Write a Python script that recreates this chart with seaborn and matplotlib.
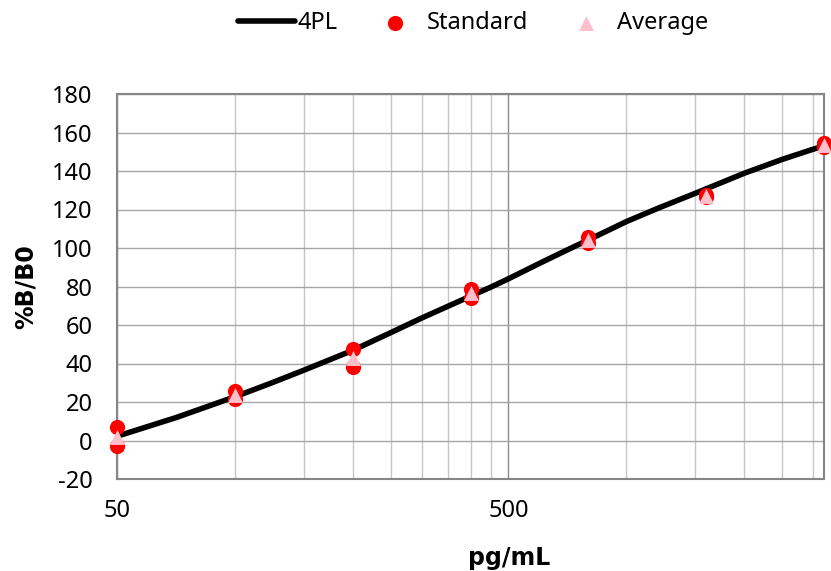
import numpy as np
import pandas as pd
import matplotlib
matplotlib.use("Agg")
import matplotlib.pyplot as plt
from matplotlib.ticker import FixedLocator, NullFormatter
import seaborn as sns

# ---- data ----
conc = [50, 100, 200, 400, 800, 1600, 3200]
standard_rep1 = [7.0, 25.5, 47.7, 78.8, 105.5, 127.5, 154.4]
standard_rep2 = [-3.0, 21.5, 38.3, 74.2, 102.5, 126.5, 152.6]
average = [2.0, 23.5, 43.0, 76.5, 104.0, 127.0, 153.5]

curve_x = [50, 71, 100, 123, 150, 200, 250, 300, 350, 400, 450, 500, 600, 700,
           800, 1000, 1200, 1500, 2000, 2500, 3000, 3200]
curve_y = [2.2, 12.0, 22.7, 29.6, 36.5, 46.8, 56.0, 63.6, 69.7, 75.0, 79.6, 84.0,
           92.0, 98.6, 104.2, 113.7, 120.5, 128.4, 138.8, 146.0, 151.3, 153.0]

y_ticks = [-20, 0, 20, 40, 60, 80, 100, 120, 140, 160, 180]
x_major = [50, 500]
x_major_labels = ["50", "500"]
x_minor = [100, 150, 200, 250, 300, 350, 400, 450,
           1000, 1500, 2000, 2500, 3000]

sns.set_style("white")
plt.rcParams["font.family"] = ["Noto Sans", "DejaVu Sans"]
plt.rcParams["axes.unicode_minus"] = False
plt.rcParams["text.color"] = "black"

fig = plt.figure(figsize=(8.31, 5.71), dpi=100)
ax = fig.add_axes([117 / 831, 1 - 479 / 571, (824 - 117) / 831, (479 - 94) / 571])

curve_df = pd.DataFrame({"x": curve_x, "y": curve_y})
std_df = pd.DataFrame({"x": conc + conc, "y": standard_rep1 + standard_rep2})
avg_df = pd.DataFrame({"x": conc, "y": average})

sns.lineplot(data=curve_df, x="x", y="y", ax=ax, color="black", linewidth=4.0,
             label="4PL", zorder=3, sort=True)
line = ax.get_lines()[0]
line.set_solid_joinstyle("round")
line.set_solid_capstyle("round")
sns.scatterplot(data=std_df, x="x", y="y", ax=ax, color="#ff0000", s=120,
                marker="o", linewidth=0, label="Standard", zorder=4, clip_on=False)
sns.scatterplot(data=avg_df, x="x", y="y", ax=ax, color="#ffc0cb", s=115,
                marker="^", linewidth=0, label="Average", zorder=5, clip_on=False)

ax.set_xscale("log")
ax.set_xlim(50, 3200)
ax.set_ylim(-20, 180)
ax.set_yticks(y_ticks)
ax.set_xticks(x_major)
ax.set_xticklabels(x_major_labels)
ax.xaxis.set_minor_locator(FixedLocator(x_minor))
ax.xaxis.set_minor_formatter(NullFormatter())

ax.grid(which="minor", axis="x", color="#c6c6c6", linewidth=1.0)
ax.grid(which="major", axis="x", color="#8c8c8c", linewidth=1.0)
ax.grid(which="major", axis="y", color="#a6a6a6", linewidth=1.0)
ax.set_axisbelow(True)

for sp in ax.spines.values():
    sp.set_visible(True)
    sp.set_color("#868686")
    sp.set_linewidth(1.5)

ax.tick_params(axis="both", which="major", direction="out", length=6.5,
               width=1.0, color="#868686", labelsize=17, labelcolor="black")
ax.tick_params(axis="y", pad=11)
ax.tick_params(axis="x", pad=8)
ax.tick_params(axis="x", which="minor", length=0)

ax.set_xlabel("")
ax.set_ylabel("")
fig.text(509 / 831, 1 - 558 / 571, "pg/mL", ha="center", va="center",
         fontsize=17, fontweight="bold", color="black", family="DejaVu Sans")
fig.text(26 / 831, 1 - 287 / 571, "%B/B0", ha="center", va="center",
         rotation=90, fontsize=17, fontweight="bold", color="black",
         family="DejaVu Sans")

handles, labels = ax.get_legend_handles_labels()
ax.get_legend().remove()
leg = fig.legend(handles, labels, loc="center", bbox_to_anchor=(473 / 831, 1 - 23 / 571),
                 ncol=3, frameon=False, fontsize=17, handlelength=2.4,
                 handletextpad=0.12, columnspacing=1.25, markerscale=1.0)
for t in leg.get_texts():
    t.set_color("black")

fig.savefig("out.png", dpi=100)
